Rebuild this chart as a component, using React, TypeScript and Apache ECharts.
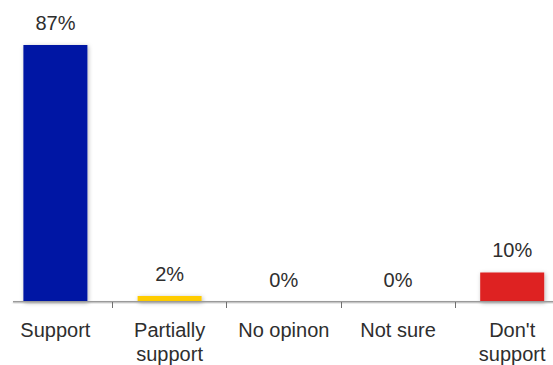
import React, { useEffect, useRef } from "react";
import * as echarts from "echarts";

// Survey answers and their shares (percent)
const categories = ["Support", "Partially\nsupport", "No opinon", "Not sure", "Don't\nsupport"];
const shares = [87, 2, 0, 0, 10];
const barColors = ["#0618a4", "#ffcc00", "#d9d9d9", "#d9d9d9", "#de2420"];

const FONT = "'Liberation Sans', Arial, sans-serif";

export default function App() {
  const ref = useRef<HTMLDivElement>(null);

  useEffect(() => {
    if (!ref.current) return;
    const chart = echarts.init(ref.current, null, { renderer: "svg" });
    chart.setOption({
      animation: false,
      backgroundColor: "#ffffff",
      grid: {
        left: -1.7,
        width: 571,
        top: 6.6,
        height: 295.4,
        containLabel: false,
        outerBoundsMode: "none",
      },
      xAxis: {
        type: "category",
        data: categories,
        boundaryGap: true,
        axisLine: { show: false },
        axisTick: {
          show: true,
          inside: false,
          length: 6,
          lineStyle: { color: "#707070", width: 1 },
        },
        axisLabel: {
          interval: 0,
          margin: 16,
          color: "#2e2e2e",
          fontFamily: FONT,
          fontSize: 20,
          lineHeight: 24,
        },
        z: 20,
      },
      yAxis: {
        type: "value",
        min: 0,
        max: 100,
        show: false,
        splitLine: { show: false },
      },
      graphic: [
        {
          // baseline under the bars
          type: "rect",
          left: 13,
          top: 301,
          shape: { width: 545, height: 1.5 },
          style: {
            fill: "#9a9a9a",
            shadowColor: "rgba(0,0,0,0.2)",
            shadowBlur: 2,
            shadowOffsetY: 1,
          },
          z: 10,
        },
      ],
      series: [
        {
          type: "bar",
          barWidth: 64,
          data: shares.map((v, i) => ({
            value: v,
            itemStyle: {
              color: barColors[i],
              shadowColor: "rgba(0,0,0,0.28)",
              shadowBlur: 4,
              shadowOffsetX: 1,
              shadowOffsetY: 1,
            },
          })),
          label: {
            show: true,
            position: "top",
            distance: 12,
            formatter: "{c}%",
            color: "#2e2e2e",
            fontFamily: FONT,
            fontSize: 20,
          },
        },
      ],
    });

    return () => chart.dispose();
  }, []);

  return (
    <div
      ref={ref}
      style={{ position: "absolute", left: 0, top: 0, width: 553, height: 365 }}
    />
  );
}
